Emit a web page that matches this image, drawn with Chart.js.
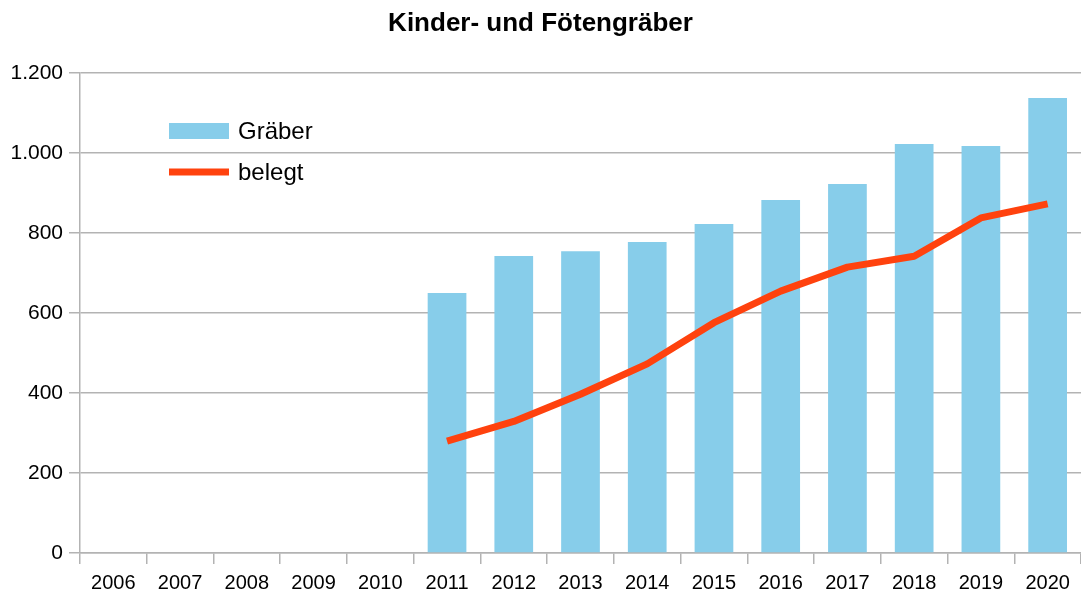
<!DOCTYPE html>
<html>
<head>
<meta charset="utf-8">
<script src="https://cdn.jsdelivr.net/npm/chart.js@4/dist/chart.umd.min.js"></script>
<style>
  html, body { margin: 0; padding: 0; background: #fff; }
  #wrap { width: 1081px; height: 594px; position: relative; }
</style>
</head>
<body>
<div id="wrap"><canvas id="c"></canvas></div>
<script>
const chartTitle = "Kinder- und Fötengräber";
const years = ["2006","2007","2008","2009","2010","2011","2012","2013","2014","2015","2016","2017","2018","2019","2020"];
const graeber = [null, null, null, null, null, 650, 743, 755, 778, 823, 883, 923, 1023, 1018, 1138];
const belegt  = [null, null, null, null, null, 280, 329, 397, 473, 576, 655, 715, 742, 838, 873];
const seriesNames = ["Gräber", "belegt"];
const yTicks = [0, 200, 400, 600, 800, 1000, 1200];

const FONT = "'Liberation Sans', Arial, sans-serif";
const BAR_COLOR = "#87CDEA";
const LINE_COLOR = "#FF420E";
const GRID = "#b3b3b3";

const insideLegend = {
  id: 'insideLegend',
  afterDatasetsDraw(chart) {
    const ctx = chart.ctx;
    const ds = chart.data.datasets;
    const x0 = 169, w = 60, textX = 238;
    const rows = [131, 172];
    ctx.save();
    ctx.font = "24px " + FONT;
    ctx.textBaseline = 'middle';
    ctx.textAlign = 'left';
    const order = [1, 0];
    order.forEach((di, i) => {
      const d = ds[di];
      const y = rows[i];
      if (d.type === 'bar') {
        ctx.fillStyle = d.backgroundColor;
        ctx.fillRect(x0, y - 8, w, 16);
      } else {
        ctx.strokeStyle = d.borderColor;
        ctx.lineWidth = 7;
        ctx.beginPath();
        ctx.moveTo(x0, y);
        ctx.lineTo(x0 + w, y);
        ctx.stroke();
      }
      ctx.fillStyle = '#000';
      ctx.fillText(d.label, textX, y + 1);
    });
    ctx.restore();
  }
};

new Chart(document.getElementById('c'), {
  data: {
    labels: years,
    datasets: [
      {
        type: 'line',
        label: seriesNames[1],
        data: belegt,
        borderColor: LINE_COLOR,
        backgroundColor: LINE_COLOR,
        borderWidth: 7,
        pointRadius: 0,
        pointHoverRadius: 0,
        tension: 0,
        borderJoinStyle: 'round',
        borderCapStyle: 'butt',
        spanGaps: false,
        order: 0
      },
      {
        type: 'bar',
        label: seriesNames[0],
        data: graeber,
        backgroundColor: BAR_COLOR,
        borderWidth: 0,
        barPercentage: 0.58,
        categoryPercentage: 1.0,
        order: 1
      }
    ]
  },
  options: {
    responsive: true,
    maintainAspectRatio: false,
    animation: false,
    devicePixelRatio: 1,
    layout: { padding: { left: 0, right: 0, top: 0, bottom: 0 } },
    plugins: {
      legend: { display: false },
      tooltip: { enabled: false },
      title: {
        display: true,
        text: chartTitle,
        color: '#000',
        font: { family: FONT, size: 26, weight: 'bold' },
        padding: { top: 8, bottom: 34 }
      }
    },
    scales: {
      x: {
        offset: true,
        grid: {
          display: true,
          offset: true,
          drawOnChartArea: false,
          drawTicks: true,
          tickLength: 11,
          color: GRID,
          lineWidth: 1.5
        },
        border: { display: true, color: GRID, width: 1.5 },
        ticks: {
          color: '#000',
          font: { family: FONT, size: 20 },
          padding: 7,
          maxRotation: 0,
          autoSkip: false
        },
        afterFit(scale) { scale.height = 41; }
      },
      y: {
        min: 0,
        max: 1200,
        afterBuildTicks(scale) { scale.ticks = yTicks.map(v => ({ value: v })); },
        grid: {
          color: GRID,
          lineWidth: 1.5,
          drawTicks: true,
          tickLength: 11
        },
        border: { display: true, color: GRID, width: 1.5 },
        ticks: {
          color: '#000',
          font: { family: FONT, size: 21 },
          padding: 6,
          callback: v => v.toLocaleString('de-DE')
        },
        afterFit(scale) { scale.width = 80; }
      }
    }
  },
  plugins: [insideLegend]
});
</script>
</body>
</html>
